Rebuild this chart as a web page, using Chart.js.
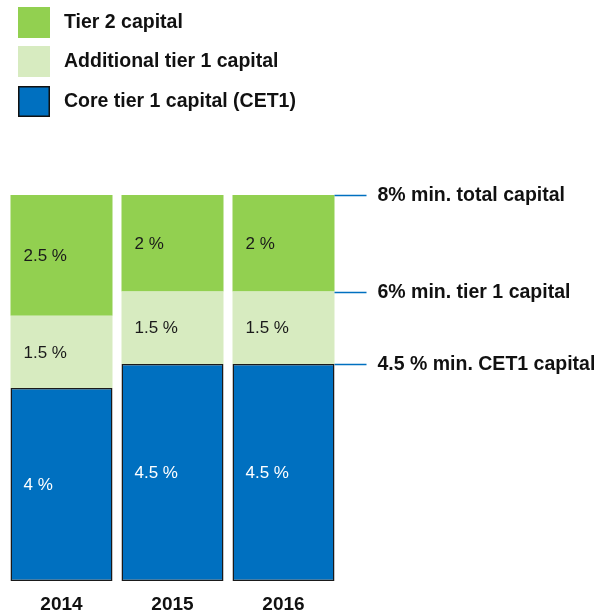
<!DOCTYPE html>
<html><head><meta charset="utf-8">
<script src="https://cdn.jsdelivr.net/npm/chart.js@4/dist/chart.umd.min.js"></script>
<style>html,body{margin:0;padding:0;background:#fff}#wrap{width:598px;height:614px}</style>
</head><body><div id="wrap"><canvas id="c"></canvas></div>
<script>
const categories = ['2014', '2015', '2016'];
const cet1 = [4, 4.5, 4.5];
const at1 = [1.5, 1.5, 1.5];
const tier2 = [2.5, 2, 2];
const thresholdValues = [8, 6, 4.5];
const thresholdLabels = ['8% min. total capital', '6% min. tier 1 capital', '4.5 % min. CET1 capital'];
const seriesNames = ['Core tier 1 capital (CET1)', 'Additional tier 1 capital', 'Tier 2 capital'];

const FONT = '"Liberation Sans", Arial, sans-serif';
const colors = ['#0070C0', '#D7EBC0', '#92D050'];

const fmt = v => (v + ' %');

const labelPlugin = {
  id: 'segLabels',
  afterDatasetsDraw(chart) {
    const ctx = chart.ctx;
    ctx.save();
    ctx.font = '17px ' + FONT;
    ctx.textBaseline = 'middle';
    ctx.textAlign = 'left';
    chart.data.datasets.forEach((ds, di) => {
      const meta = chart.getDatasetMeta(di);
      meta.data.forEach((bar, i) => {
        const p = bar.getProps(['x', 'y', 'base', 'width'], true);
        const left = p.x - p.width / 2;
        ctx.fillStyle = di === 0 ? '#ffffff' : '#1a1a1a';
        ctx.fillText(fmt(ds.data[i]), left + 13, (p.y + p.base) / 2 + 1);
      });
    });
    ctx.restore();
  }
};

const thresholdPlugin = {
  id: 'thresholds',
  afterDraw(chart) {
    const ctx = chart.ctx;
    const y = chart.scales.y;
    const meta = chart.getDatasetMeta(0);
    const last = meta.data[meta.data.length - 1].getProps(['x', 'width'], true);
    const x0 = last.x + last.width / 2;
    ctx.save();
    ctx.font = 'bold 19.5px ' + FONT;
    ctx.textBaseline = 'middle';
    ctx.textAlign = 'left';
    thresholdValues.forEach((v, i) => {
      const py = Math.round(y.getPixelForValue(v)) + 0.5;
      ctx.strokeStyle = '#0070C0';
      ctx.lineWidth = 1.5;
      ctx.beginPath();
      ctx.moveTo(x0, py);
      ctx.lineTo(x0 + 32, py);
      ctx.stroke();
      ctx.fillStyle = '#111';
      ctx.fillText(thresholdLabels[i], x0 + 43, py);
    });
    ctx.restore();
  }
};

const legendPlugin = {
  id: 'customLegend',
  afterDraw(chart) {
    const ctx = chart.ctx;
    ctx.save();
    ctx.font = 'bold 19.5px ' + FONT;
    ctx.textBaseline = 'middle';
    ctx.textAlign = 'left';
    const order = [2, 1, 0];
    const tops = [7, 46, 86];
    order.forEach((di, k) => {
      const ds = chart.data.datasets[di];
      const top = tops[k];
      ctx.fillStyle = ds.backgroundColor;
      ctx.fillRect(18, top, 32, 31);
      if (di === 0) {
        ctx.strokeStyle = '#111';
        ctx.lineWidth = 1.5;
        ctx.strokeRect(18.75, top + 0.75, 30.5, 29.5);
      }
      ctx.fillStyle = '#111';
      ctx.fillText(ds.label, 64, top + 16);
    });
    ctx.restore();
  }
};

new Chart(document.getElementById('c'), {
  type: 'bar',
  data: {
    labels: categories,
    datasets: [
      { label: seriesNames[0], data: cet1, backgroundColor: colors[0], borderColor: '#1a1a1a', borderWidth: 1.5, borderSkipped: false },
      { label: seriesNames[1], data: at1, backgroundColor: colors[1], borderWidth: 0 },
      { label: seriesNames[2], data: tier2, backgroundColor: colors[2], borderWidth: 0 }
    ]
  },
  options: {
    responsive: true,
    maintainAspectRatio: false,
    animation: false,
    devicePixelRatio: 1,
    layout: { padding: { top: 195, left: 6, right: 259, bottom: 0 } },
    plugins: { legend: { display: false }, tooltip: { enabled: false } },
    datasets: { bar: { barPercentage: 1, categoryPercentage: 0.919 } },
    scales: {
      x: {
        stacked: true,
        grid: { display: false, drawTicks: false },
        border: { display: false },
        ticks: { color: '#111', font: { family: FONT, size: 19, weight: 'bold' }, padding: 12 },
        afterFit(scale) { scale.height = 33; }
      },
      y: {
        stacked: true,
        display: false,
        min: 0,
        max: 8
      }
    }
  },
  plugins: [labelPlugin, thresholdPlugin, legendPlugin]
});
</script>
</body></html>
